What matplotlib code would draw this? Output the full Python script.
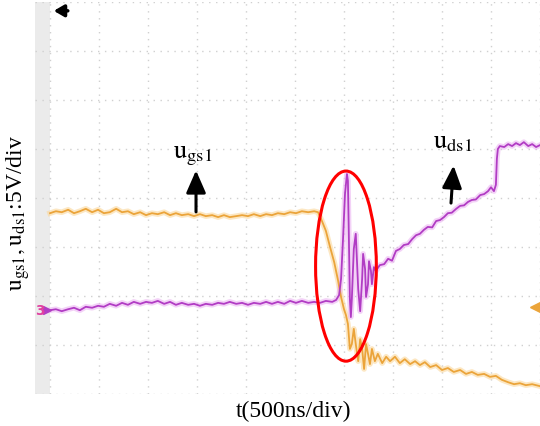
import numpy as np
import matplotlib
matplotlib.use("Agg")
import matplotlib.pyplot as plt
from matplotlib.patches import Ellipse

plt.rcParams['font.family'] = ['Liberation Serif', 'DejaVu Serif']
plt.rcParams['mathtext.fontset'] = 'stix'

# time in divisions (500 ns/div), voltage in divisions (5 V/div)
ugs_t = [0, 0.12, 0.24, 0.37, 0.49, 0.61, 0.73, 0.86, 0.98, 1.10, 1.22, 1.35,
         1.47, 1.59, 1.71, 1.84, 1.96, 2.08, 2.20, 2.33, 2.45, 2.57, 2.69, 2.82,
         2.94, 3.06, 3.18, 3.31, 3.43, 3.55, 3.67, 3.80, 3.92, 4.04, 4.16, 4.29,
         4.41, 4.53, 4.65, 4.78, 4.90, 5.02, 5.14, 5.27, 5.39, 5.47, 5.55, 5.63,
         5.71, 5.80, 5.88, 5.94, 6.00, 6.04, 6.08, 6.12, 6.16, 6.20, 6.24, 6.29,
         6.33, 6.37, 6.41, 6.45, 6.49, 6.53, 6.57, 6.63, 6.69, 6.78, 6.86, 6.94,
         7.04, 7.14, 7.24, 7.35, 7.45, 7.55, 7.65, 7.76, 7.88, 8.00, 8.12, 8.24,
         8.37, 8.49, 8.61, 8.73, 8.86, 8.98, 9.10, 9.22, 9.35, 9.47, 9.59, 9.71,
         9.84, 10.0]
ugs_v = [3.69, 3.73, 3.71, 3.76, 3.69, 3.73, 3.78, 3.71, 3.76, 3.69, 3.71, 3.78,
         3.71, 3.73, 3.67, 3.71, 3.65, 3.69, 3.67, 3.71, 3.65, 3.69, 3.65, 3.67,
         3.63, 3.67, 3.63, 3.65, 3.61, 3.65, 3.61, 3.63, 3.65, 3.63, 3.67, 3.63,
         3.67, 3.65, 3.69, 3.67, 3.71, 3.69, 3.73, 3.71, 3.73, 3.71, 3.53, 3.33,
         3.02, 2.69, 2.31, 1.98, 1.73, 1.61, 1.43, 0.92, 1.02, 1.33, 1.02, 0.67,
         1.12, 0.92, 0.51, 1.02, 0.82, 0.61, 0.92, 0.67, 0.82, 0.63, 0.76, 0.67,
         0.76, 0.63, 0.71, 0.61, 0.67, 0.59, 0.65, 0.55, 0.59, 0.49, 0.53, 0.45,
         0.49, 0.41, 0.45, 0.39, 0.41, 0.35, 0.37, 0.29, 0.24, 0.20, 0.22, 0.18,
         0.20, 0.16]

uds_t = [0, 0.12, 0.24, 0.37, 0.49, 0.61, 0.73, 0.86, 0.98, 1.10, 1.22, 1.35,
         1.47, 1.59, 1.71, 1.84, 1.96, 2.08, 2.20, 2.33, 2.45, 2.57, 2.69, 2.82,
         2.94, 3.06, 3.18, 3.31, 3.43, 3.55, 3.67, 3.80, 3.92, 4.04, 4.16, 4.29,
         4.41, 4.53, 4.65, 4.78, 4.90, 5.02, 5.14, 5.27, 5.39, 5.51, 5.63, 5.76,
         5.84, 5.90, 5.94, 5.98, 6.02, 6.06, 6.08, 6.10, 6.12, 6.14, 6.16, 6.20,
         6.24, 6.29, 6.33, 6.37, 6.39, 6.43, 6.45, 6.49, 6.51, 6.55, 6.57, 6.61,
         6.65, 6.73, 6.82, 6.90, 6.98, 7.06, 7.14, 7.22, 7.31, 7.39, 7.47, 7.55,
         7.63, 7.71, 7.80, 7.88, 7.96, 8.04, 8.12, 8.20, 8.29, 8.37, 8.45, 8.53,
         8.61, 8.69, 8.78, 8.86, 8.94, 9.00, 9.06, 9.10, 9.12, 9.14, 9.18, 9.27,
         9.35, 9.43, 9.51, 9.59, 9.67, 9.76, 9.84, 9.92, 10.0]
uds_v = [1.71, 1.73, 1.69, 1.73, 1.76, 1.71, 1.78, 1.76, 1.80, 1.78, 1.84, 1.80,
         1.86, 1.82, 1.88, 1.84, 1.88, 1.86, 1.90, 1.84, 1.88, 1.82, 1.86, 1.82,
         1.84, 1.80, 1.84, 1.82, 1.86, 1.84, 1.88, 1.84, 1.86, 1.82, 1.86, 1.84,
         1.88, 1.84, 1.88, 1.84, 1.90, 1.86, 1.90, 1.86, 1.88, 1.86, 1.90, 1.88,
         1.92, 2.02, 2.35, 3.16, 4.08, 4.49, 4.35, 3.16, 1.94, 1.57, 1.94, 2.96,
         3.27, 2.14, 1.69, 2.35, 2.86, 2.55, 1.98, 2.24, 2.71, 2.51, 2.24, 2.59,
         2.51, 2.63, 2.65, 2.76, 2.72, 2.92, 2.96, 3.04, 3.06, 3.16, 3.24, 3.27,
         3.35, 3.41, 3.40, 3.53, 3.55, 3.61, 3.69, 3.70, 3.78, 3.84, 3.85, 3.92,
         3.96, 3.97, 4.06, 4.08, 4.14, 4.22, 4.14, 4.27, 4.80, 5.00, 5.06, 5.04,
         5.10, 5.06, 5.12, 5.08, 5.14, 5.06, 5.10, 5.04, 5.08]

orange = '#eba43a'
purple = '#b13cc4'

fig = plt.figure(figsize=(5.4, 4.27), dpi=100)
ax = fig.add_axes([35 / 540, 1 - 395 / 427, 505 / 540, 392 / 427])
x0 = -15 / 49
ax.set_xlim(x0, 10)
ax.set_ylim(0, 8)
ax.axvspan(x0, 0, color='#ebebeb', lw=0)
for s in ax.spines.values():
    s.set_visible(False)
ax.set_xticks([])
ax.set_yticks([])

# scope graticule
for gx in range(0, 11):
    ax.axvline(gx, color='#d0d0d0', lw=1, ls=(0, (1, 4)), zorder=1)
for gy in range(0, 9):
    ax.axhline(gy, color='#d0d0d0', lw=1, ls=(0, (1, 4)), zorder=1)

# traces with a soft glow
ax.plot(ugs_t, ugs_v, color='#fbd89c', lw=4, alpha=0.6, zorder=2)
ax.plot(uds_t, uds_v, color='#ecb4f2', lw=4, alpha=0.6, zorder=2)
ax.plot(ugs_t, ugs_v, color=orange, lw=1.3, zorder=3)
ax.plot(uds_t, uds_v, color=purple, lw=1.3, zorder=3)

# channel / trigger markers
ax.text(x0 + 0.01, uds_v[0], '3', color='#e040a0', fontsize=10,
        fontweight='bold', va='center', ha='left', family='DejaVu Sans')
ax.plot([-0.06], [uds_v[0]], marker='>', color=purple, ms=6)
ax.plot([9.92], [1.78], marker='<', color=orange, ms=8)
ax.annotate('', xy=(0.02, 7.82), xytext=(0.42, 7.82),
            arrowprops=dict(arrowstyle='-|>,head_width=0.35,head_length=0.6',
                            color='black', lw=2.5, mutation_scale=10))

# labels with arrows
ax.text(2.92, 4.88, r'$\mathrm{u_{gs1}}$', fontsize=19, ha='center', va='center')
ax.annotate('', xy=(2.98, 4.62), xytext=(2.98, 3.66),
            arrowprops=dict(arrowstyle='-|>,head_width=0.35,head_length=0.8',
                            color='black', lw=2.2, mutation_scale=17))
ax.text(8.22, 5.14, r'$\mathrm{u_{ds1}}$', fontsize=19, ha='center', va='center')
ax.annotate('', xy=(8.24, 4.72), xytext=(8.18, 3.84),
            arrowprops=dict(arrowstyle='-|>,head_width=0.35,head_length=0.8',
                            color='black', lw=2.2, mutation_scale=17))

ax.add_patch(Ellipse((6.04, 2.61), 1.24, 3.88, fill=False, ec='#ff0000',
                     lw=2.2, zorder=4))

fig.text(18 / 540, 1 - 213 / 427, r'$\mathrm{u_{gs1},u_{ds1}}$:5V/div',
         rotation=90, ha='center', va='center', fontsize=17)
fig.text(294 / 540, 1 - 411 / 427, 't(500ns/div)', ha='center', va='center',
         fontsize=17)

fig.savefig('out.png', dpi=100)
